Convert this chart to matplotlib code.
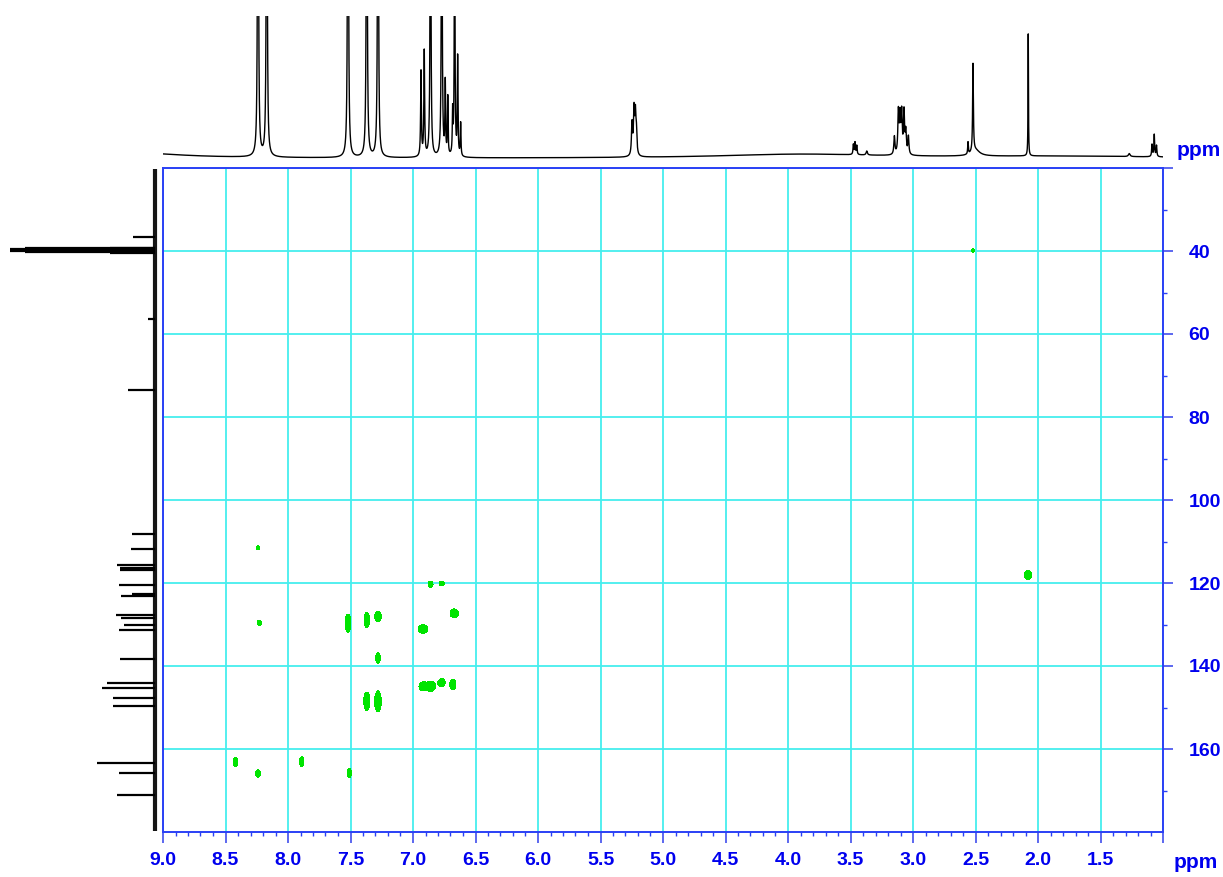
import numpy as np
import matplotlib
matplotlib.use("Agg")
import matplotlib.pyplot as plt
from matplotlib.ticker import FixedLocator, MultipleLocator

# ---------------- data ----------------
# 1H projection: peak shift (ppm), height, half width at half max (ppm)
h_shift = [8.240, 8.170, 7.520, 7.370, 7.280, 6.936, 6.910, 6.860, 6.770,
           6.742, 6.722, 6.683, 6.667, 6.643, 6.619,
           5.248, 5.232, 5.221, 5.213,
           3.477, 3.464, 3.450, 3.370,
           3.149, 3.117, 3.104, 3.091, 3.072, 3.058, 3.037,
           2.560, 2.520, 2.500, 2.078, 1.270, 1.088, 1.070, 1.052,
           9.300, 3.900, 1.800]
h_height = [600, 580, 600, 550, 550, 85, 105, 400, 400,
            72, 58, 42, 300, 98, 33,
            32, 44, 38, 22,
            10, 12, 9, 4,
            18, 42, 36, 40, 42, 22, 18,
            12, 88, 6, 122, 3, 12, 22, 11,
            6, 4, 2]
h_hwhm = [0.0035, 0.0035, 0.0035, 0.0035, 0.0035, 0.0035, 0.0035, 0.0035, 0.0035,
          0.003, 0.003, 0.003, 0.003, 0.003, 0.003,
          0.005, 0.005, 0.005, 0.005,
          0.0035, 0.0035, 0.0035, 0.006,
          0.005, 0.005, 0.005, 0.005, 0.005, 0.005, 0.005,
          0.003, 0.0035, 0.04, 0.002, 0.008, 0.0035, 0.0035, 0.0035,
          0.5, 0.8, 1.0]

# 13C projection: peak shift (ppm) and height
c_shift = [36.6, 39.17, 39.38, 39.59, 39.80, 40.01, 40.22, 40.43,
           56.5, 73.5, 108.3, 111.9, 115.7, 116.3, 116.9, 120.5,
           122.7, 123.2, 127.6, 128.4, 130.0, 131.3, 138.4,
           144.2, 145.2, 147.7, 149.6, 163.4, 165.9, 171.0]
c_height = [22, 45, 130, 260, 300, 260, 130, 45,
            7, 27, 23, 24, 38, 35, 35, 36,
            23, 34, 39, 34, 31, 36, 35,
            48, 53, 42, 42, 58, 36, 38]

# HMBC cross peaks: 1H shift, 13C shift, half extents (ppm)
xp_h = [8.24, 8.23, 7.52, 7.37, 7.28, 7.28, 7.37, 7.28, 6.86, 6.77, 6.67,
        6.92, 6.92, 6.85, 6.77, 6.68, 8.42, 8.24, 7.89, 7.51, 2.52, 2.08]
xp_c = [111.5, 129.6, 129.7, 128.9, 128.1, 138.1, 148.5, 148.5, 120.3, 120.1,
        127.3, 131.1, 144.9, 144.9, 144.0, 144.5, 163.1, 165.9, 163.1, 165.8,
        39.9, 118.1]
xp_wh = [0.012, 0.018, 0.024, 0.022, 0.026, 0.018, 0.024, 0.026, 0.020, 0.020,
         0.034, 0.038, 0.032, 0.026, 0.026, 0.024, 0.018, 0.018, 0.018, 0.016,
         0.012, 0.030]
xp_wc = [0.43, 0.60, 2.17, 1.85, 1.28, 1.28, 2.17, 2.48, 0.72, 0.55, 1.04,
         1.04, 1.04, 1.13, 0.96, 1.20, 1.13, 0.92, 1.20, 1.08, 0.43, 1.08]

x_ticks = [9.0, 8.5, 8.0, 7.5, 7.0, 6.5, 6.0, 5.5, 5.0, 4.5, 4.0, 3.5, 3.0, 2.5, 2.0, 1.5, 1.0]
y_ticks = [20, 40, 60, 80, 100, 120, 140, 160]

# ---------------- style ----------------
BLUE_TXT = "#0000EE"
BLUE_LINE = "#2A40F5"
BLUE_TICK = "#4F5CEE"
GRID = "#45EEEE"
GREEN = "#00E400"
FONT = "Liberation Sans"

W, H = 1223, 877
fig = plt.figure(figsize=(W / 100, H / 100), dpi=100)


def px_axes(x0, y0, x1, y1):
    return fig.add_axes([x0 / W, 1 - y1 / H, (x1 - x0) / W, (y1 - y0) / H])


ax = px_axes(163, 168, 1163, 832)
ax_top = px_axes(163, 16, 1163, 162)
ax_left = px_axes(10, 168, 158, 832)

# ---------------- 2D map ----------------
gx = np.arange(9.0, 0.999, -0.002)
gy = np.arange(20.0, 180.001, 0.08)
Z = np.zeros((gy.size, gx.size))
for h, c, wh, wc in zip(xp_h, xp_c, xp_wh, xp_wc):
    Z += np.outer(np.exp(-0.5 * ((gy - c) / wc) ** 2),
                  np.exp(-0.5 * ((gx - h) / wh) ** 2))
ax.contourf(gx, gy, Z, levels=[np.exp(-0.5), 1e3], colors=[GREEN], zorder=3)

ax.set_xlim(9.0, 1.0)
ax.set_ylim(180, 20)
ax.set_axisbelow(True)
ax.grid(True, which="major", color=GRID, lw=1.3)

for s in ax.spines.values():
    s.set_color(BLUE_LINE)
    s.set_linewidth(1.4)
    s.set_zorder(5)

ax.xaxis.set_major_locator(FixedLocator(x_ticks))
ax.set_xticklabels(["" if v == 1.0 else f"{v:.1f}" for v in x_ticks])
ax.xaxis.set_minor_locator(MultipleLocator(0.1))

ax.yaxis.tick_right()
ax.yaxis.set_major_locator(FixedLocator(y_ticks))
ax.set_yticklabels(["" if v == 20 else str(v) for v in y_ticks])
ax.yaxis.set_minor_locator(FixedLocator(np.arange(30, 180, 20)))

ax.tick_params(axis="x", which="major", direction="out", length=7.8, width=1.3,
               color=BLUE_TICK, labelcolor=BLUE_TXT, labelsize=14, pad=6.5)
ax.tick_params(axis="x", which="minor", direction="out", length=3.0, width=1.0,
               color=BLUE_LINE)
ax.tick_params(axis="y", which="major", direction="out", length=7.2, width=1.3,
               color=BLUE_TICK, labelcolor=BLUE_TXT, labelsize=14, pad=11)
ax.tick_params(axis="y", which="minor", direction="out", length=3.0, width=1.0,
               color=BLUE_LINE)
for lab in ax.get_xticklabels() + ax.get_yticklabels():
    lab.set_fontfamily(FONT)
    lab.set_fontweight("bold")

# ---------------- 1H projection ----------------
xs = np.arange(9.0, 0.9999, -0.0005)
spec_h = np.zeros_like(xs)
for p, a, w in zip(h_shift, h_height, h_hwhm):
    spec_h += a * w ** 2 / (w ** 2 + (xs - p) ** 2)
ax_top.plot(xs, spec_h, color="black", lw=1.0)
ax_top.set_xlim(9.0, 1.0)
ax_top.set_ylim(-3.5, 142.5)
ax_top.axis("off")

# ---------------- 13C projection ----------------
ax_left.plot([0, 0], [20.3, 179.7], color="#151515", lw=3.0, solid_capstyle="butt")
ax_left.hlines(c_shift, 0, c_height, color="black", lw=1.6)
ax_left.set_xlim(145, -3)
ax_left.set_ylim(180, 20)
ax_left.axis("off")

# ---------------- unit labels ----------------
fig.text(1177 / W, 1 - 156 / H, "ppm", ha="left", va="baseline", fontsize=15,
         fontweight="bold", color=BLUE_TXT, family=FONT)
fig.text(1174 / W, 1 - 868.5 / H, "ppm", ha="left", va="baseline", fontsize=15,
         fontweight="bold", color=BLUE_TXT, family=FONT)

fig.savefig("out.png", dpi=100)
